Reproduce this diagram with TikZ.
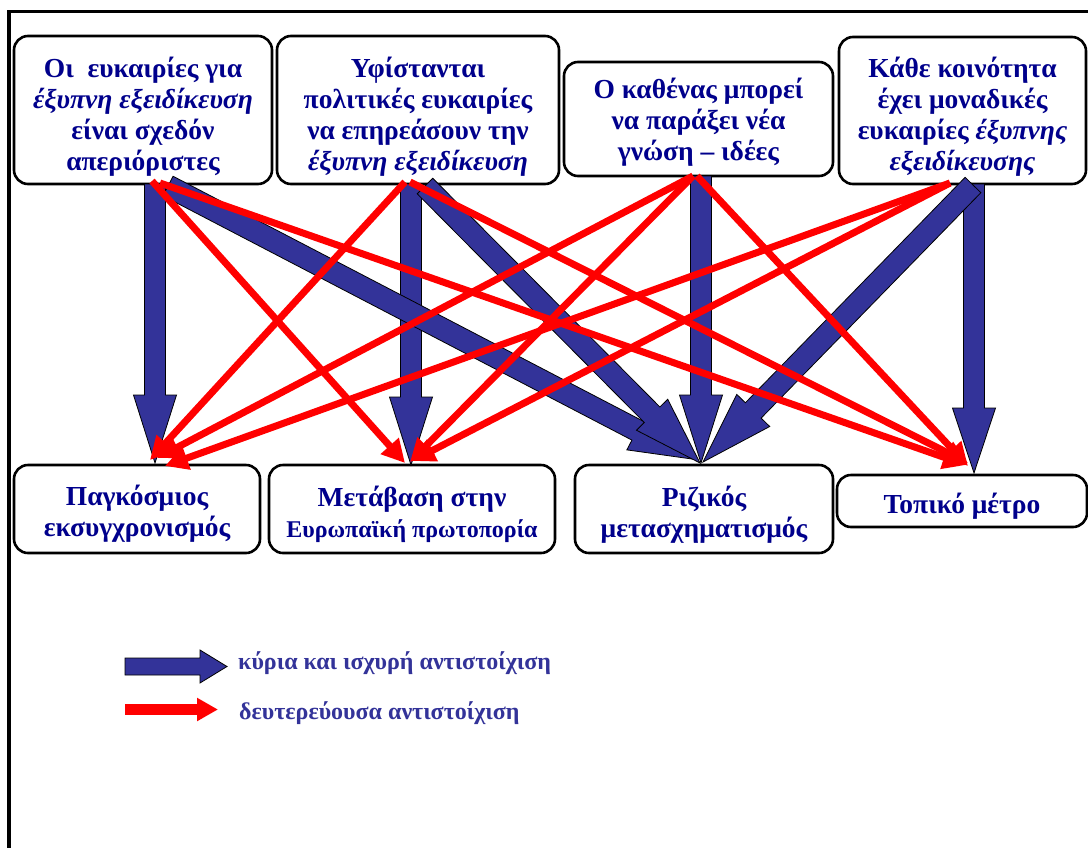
\documentclass[tikz,border=0pt]{standalone}
\usepackage{fontspec}
\setmainfont{Liberation Serif}
\usetikzlibrary{calc,arrows.meta}
\definecolor{txtblue}{RGB}{0,0,140}
\definecolor{legblue}{RGB}{51,51,153}
\definecolor{arrblue}{RGB}{51,51,153}
\newcommand{\barrow}[5]{% start, tip, half body, half head, head length
  \coordinate (bac) at ($(#2)!#5!(#1)$);
  \filldraw[bluearr] ($(#1)!#3!90:(#2)$) -- ($(bac)!#3!90:(#2)$) -- ($(bac)!#4!90:(#2)$) -- (#2)
    -- ($(bac)!#4!-90:(#2)$) -- ($(bac)!#3!-90:(#2)$) -- ($(#1)!#3!-90:(#2)$) -- cycle;}
\newcommand{\btxt}[2][7pt]{\raisebox{-#1}[\height][\depth]{\begin{tabular}{@{}c@{}}#2\end{tabular}}}
\tikzset{
  box/.style={draw=black, line width=2.6pt, rounded corners=14pt, fill=white, text=txtblue,
    font=\bfseries\fontsize{27.5}{31}\selectfont, align=center, inner sep=0pt},
  bluearr/.style={fill=arrblue, draw=black, line width=0.8pt, line join=miter},
  redarr/.style={draw=red, line width=7pt, -{Triangle[length=23pt,width=23pt]}},
  legtext/.style={text=legblue, font=\bfseries\fontsize{24}{28}\selectfont, anchor=west, inner sep=0pt}
}
\begin{document}
\begin{tikzpicture}[x=1pt,y=-1pt]
\useasboundingbox (0,0) rectangle (1088,847);
\fill[white] (0,0) rectangle (1088,847);
% frame
\draw[line width=3.5pt] (9,860) -- (9,11.5) -- (1100,11.5);
% top boxes
\node[box, minimum width=258pt, minimum height=148pt] (t1) at (143,110)
  {\btxt[7.5pt]{Οι\ \ ευκαιρίες για\\\textit{έξυπνη εξειδίκευση}\\είναι σχεδόν\\απεριόριστες}};
\node[box, minimum width=282pt, minimum height=148pt] (t2) at (418,110)
  {\btxt[7.5pt]{Υφίστανται\\πολιτικές ευκαιρίες\\να επηρεάσουν την\\\textit{έξυπνη εξειδίκευση}}};
\node[box, minimum width=269pt, minimum height=114pt] (t3) at (698.5,119)
  {\btxt[4pt]{Ο καθένας μπορεί\\να παράξει νέα\\γνώση – ιδέες}};
\node[box, minimum width=247pt, minimum height=147pt] (t4) at (962.5,110.5)
  {\btxt[7pt]{Κάθε κοινότητα\\έχει μοναδικές\\ευκαιρίες \textit{έξυπνης}\\\textit{εξειδίκευσης}}};
% bottom boxes
\node[box, minimum width=246pt, minimum height=88pt] (b1) at (137,509)
  {\btxt[6pt]{Παγκόσμιος\\εκσυγχρονισμός}};
\node[box, minimum width=286pt, minimum height=88pt] (b2) at (412,509)
  {\btxt[7pt]{Μετάβαση στην\\{\fontsize{24}{31}\selectfont Ευρωπαϊκή πρωτοπορία}}};
\node[box, minimum width=258pt, minimum height=88pt] (b3) at (704,509)
  {\btxt[7pt]{Ριζικός\\μετασχηματισμός}};
\node[box, minimum width=250pt, minimum height=52pt] (b4) at (962,501)
  {\btxt[6pt]{Τοπικό μέτρο}};
% connector end points
\coordinate (t1v) at (155,184);  \coordinate (b1v) at (155,463);
\coordinate (t1d) at (168,186);  \coordinate (b3a) at (692,459);
\coordinate (t2v) at (411,184);  \coordinate (b2v) at (411,465);
\coordinate (t2d) at (425,186);  \coordinate (b3b) at (700,463);
\coordinate (t3v) at (701,176);  \coordinate (b3c) at (701,463);
\coordinate (t4d) at (973,185);  \coordinate (b3d) at (703,462);
\coordinate (t4v) at (974,184);  \coordinate (b4v) at (974,473);
% blue arrows
\barrow{t1v}{b1v}{10.5pt}{21.5pt}{68pt}
\barrow{t2v}{b2v}{10.5pt}{21.5pt}{68pt}
\barrow{t3v}{b3c}{10.5pt}{21.5pt}{68pt}
\barrow{t4v}{b4v}{10.5pt}{21.5pt}{65pt}
\barrow{t1d}{b3a}{11pt}{22pt}{62pt}
\barrow{t2d}{b3b}{11pt}{22pt}{68pt}
\barrow{t4d}{b3d}{11pt}{23pt}{72pt}
% red arrows
\coordinate (r1s) at (152,181); \coordinate (r1e) at (405,463);
\coordinate (r2s) at (160,183); \coordinate (r2e) at (966,465);
\coordinate (r3s) at (405,182); \coordinate (r3e) at (150,460);
\coordinate (r4s) at (410,182); \coordinate (r4e) at (968,463);
\coordinate (r5s) at (693,176); \coordinate (r5e) at (157,458);
\coordinate (r6s) at (693,176); \coordinate (r6e) at (410,462);
\coordinate (r7s) at (697,176); \coordinate (r7e) at (968,466);
\coordinate (r8s) at (950,183); \coordinate (r8e) at (165,466);
\coordinate (r9s) at (950,183); \coordinate (r9e) at (412,461);
\foreach \i in {1,...,9} {\draw[redarr] (r\i s) -- (r\i e);}
% legend
\coordinate (lb1) at (125,666.5); \coordinate (lb2) at (227,666.5);
\barrow{lb1}{lb2}{8.5pt}{16.5pt}{27pt}
\coordinate (lr1) at (125,709.5); \coordinate (lr2) at (218,709.5);
\draw[draw=red, line width=11pt, -{Triangle[length=21pt,width=22pt]}] (lr1) -- (lr2);
\node[legtext] (l1) at (238,663) {κύρια και ισχυρή αντιστοίχιση};
\node[legtext] (l2) at (239,713) {δευτερεύουσα αντιστοίχιση};
\end{tikzpicture}
\end{document}
